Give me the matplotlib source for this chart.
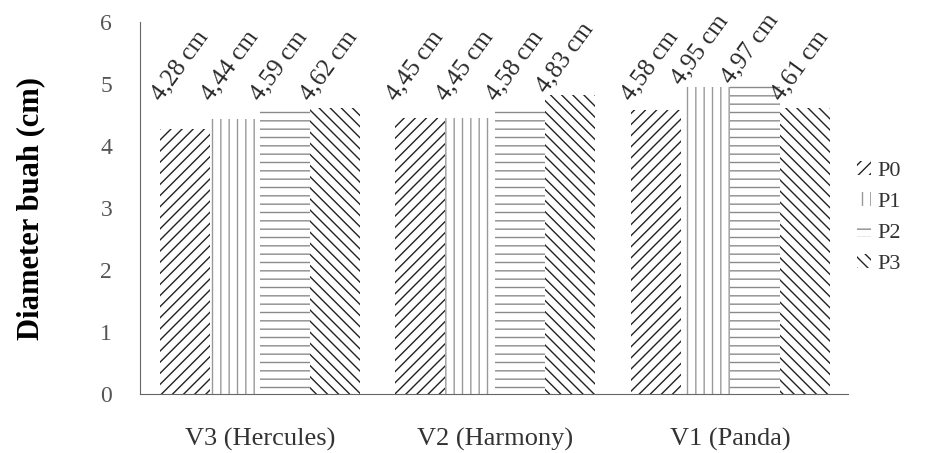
import numpy as np
import matplotlib
matplotlib.use("Agg")
import matplotlib.pyplot as plt
from matplotlib.patches import Patch

# -------------------------
# DATA
# -------------------------
varieties = ["V3 (Hercules)", "V2 (Harmony)", "V1 (Panda)"]
treatments = ["P0", "P1", "P2", "P3"]
p0 = [4.28, 4.45, 4.58]
p1 = [4.44, 4.45, 4.95]
p2 = [4.59, 4.58, 4.97]
p3 = [4.62, 4.83, 4.61]
yticks = [0, 1, 2, 3, 4, 5, 6]

series = [p0, p1, p2, p3]
hatches = ["///", "||", "--", "\\\\\\"]
hatch_colors = ["#222222", "#999999", "#8a8a8a", "#222222"]

plt.rcParams["font.family"] = ["Liberation Serif", "DejaVu Serif"]
plt.rcParams["hatch.linewidth"] = 1.0

# -------------------------
# CHART
# -------------------------
fig = plt.figure(figsize=(9.33, 4.53), dpi=100)
ax = fig.add_axes([0.150, 0.130, 0.759, 0.821])

x = np.arange(len(varieties))
width = 0.212

for i, vals in enumerate(series):
    pos = x + (i - 1.5) * width
    ax.bar(pos, vals, width, facecolor="white", edgecolor=hatch_colors[i],
           hatch=hatches[i], linewidth=0, label=treatments[i])
    for xp, v in zip(pos, vals):
        txt = f"{v:.2f}".replace(".", ",") + " cm"
        ax.text(xp - width / 2 + 0.02, max(v, 4.7) - 0.03, txt, rotation=54,
                rotation_mode="anchor", ha="left", va="bottom",
                fontsize=18, color="#2a2a2a")

ax.set_xlim(-0.51, 2.5)
ax.set_ylim(0, 6)
ax.set_yticks(yticks)
ax.set_xticks(x)
ax.set_xticklabels(varieties, fontsize=19, color="#333333")
ax.tick_params(axis="y", labelsize=17, labelcolor="#555555", length=0, pad=20)
ax.tick_params(axis="x", length=0, pad=24)
ax.set_ylabel("Diameter buah (cm)", fontsize=22, fontweight="bold", labelpad=40)

for side in ["top", "right"]:
    ax.spines[side].set_visible(False)
for side in ["left", "bottom"]:
    ax.spines[side].set_color("#666666")
    ax.spines[side].set_linewidth(0.8)

handles = [Patch(facecolor="white", edgecolor=hatch_colors[i], hatch=hatches[i],
                 linewidth=0, label=treatments[i]) for i in range(4)]
ax.legend(handles=handles, loc="center left", bbox_to_anchor=(0.985, 0.475),
          frameon=False, fontsize=16, handlelength=0.6, handleheight=0.6,
          handletextpad=0.3, labelspacing=0.5, labelcolor="#333333")

fig.savefig("out.png", dpi=100)
